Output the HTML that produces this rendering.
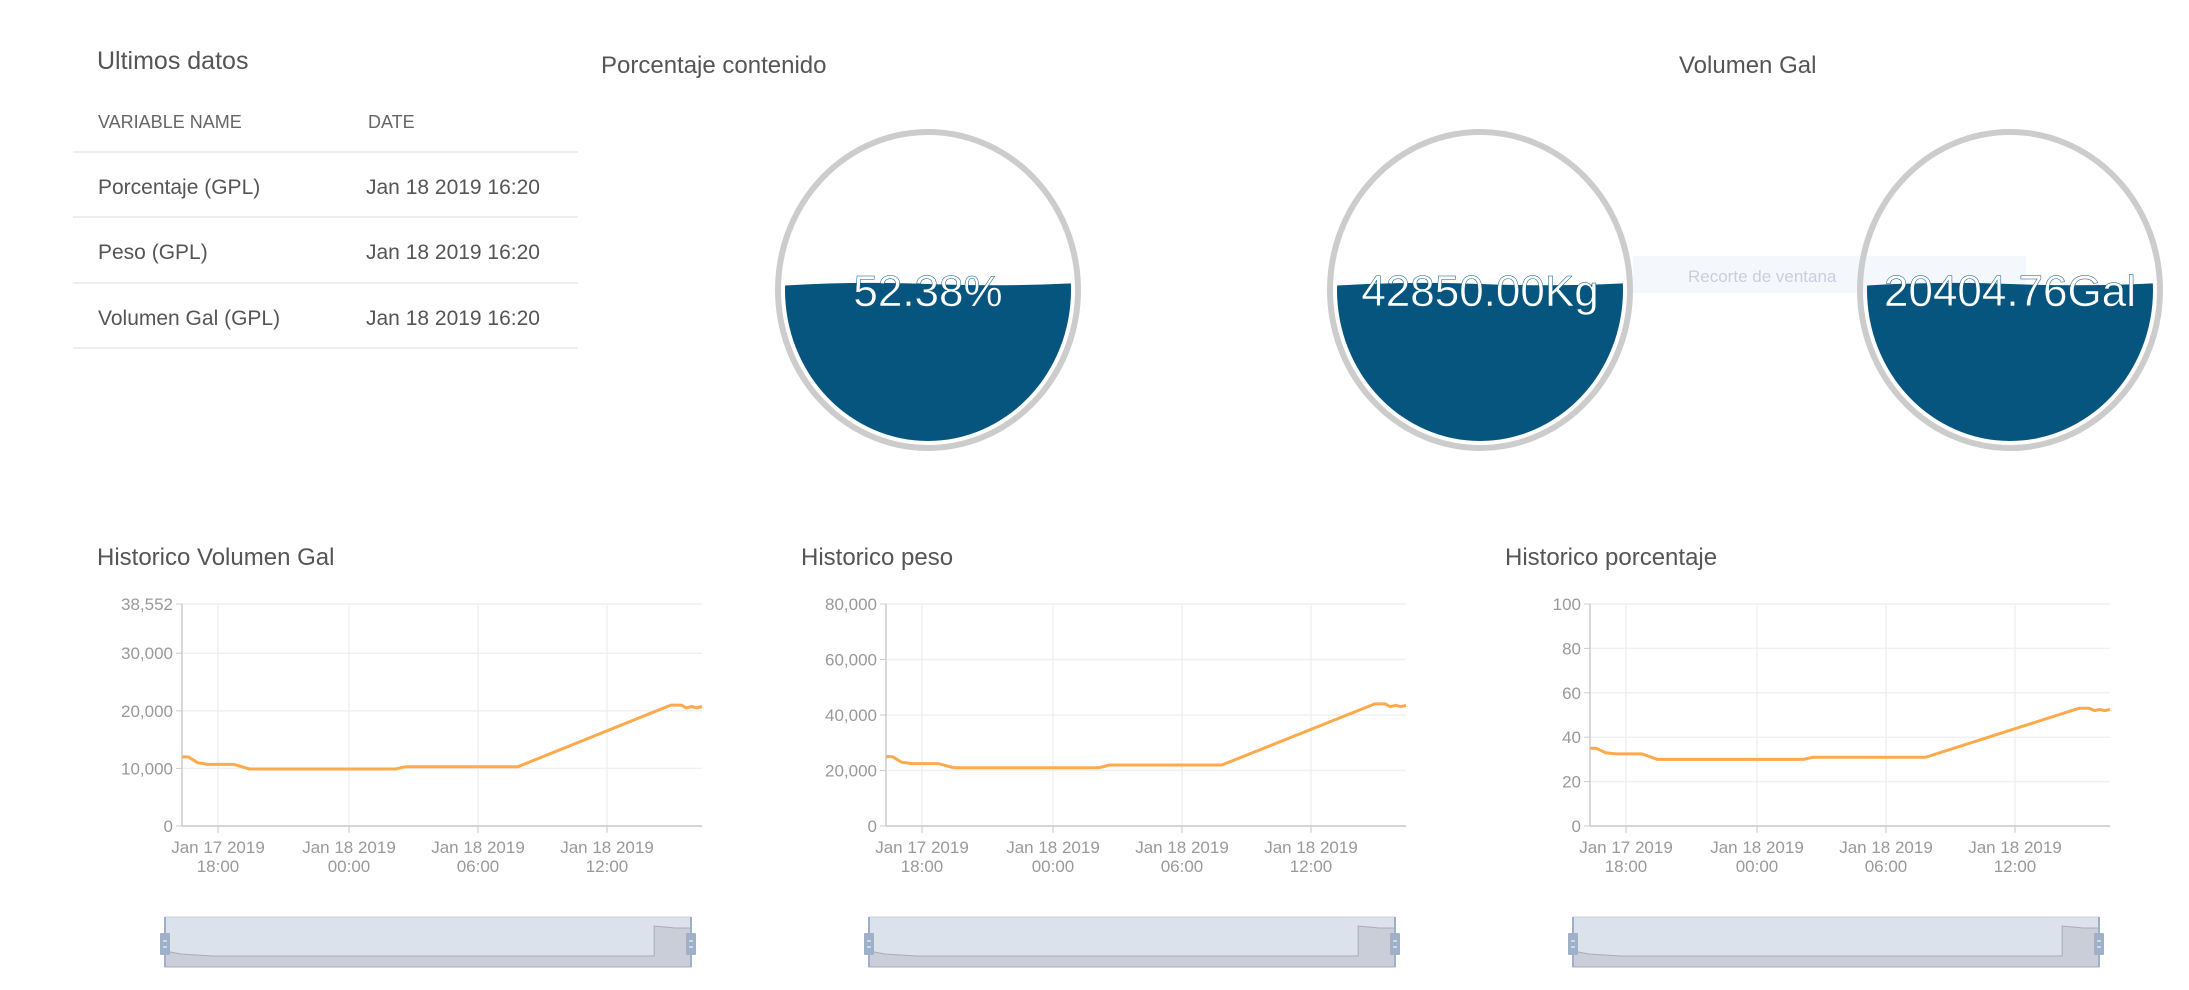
<!DOCTYPE html>
<html><head><meta charset="utf-8"><style>
html,body{margin:0;padding:0;background:#fff;width:2189px;height:990px;overflow:hidden;font-family:"Liberation Sans",sans-serif;}
</style></head><body>
<svg id="s" width="2189" height="990" xmlns="http://www.w3.org/2000/svg" font-family="Liberation Sans, sans-serif">
<text x="97" y="69" font-size="25" fill="#555">Ultimos datos</text>
<text x="98" y="128" font-size="18" fill="#666">VARIABLE NAME</text>
<text x="368" y="128" font-size="18" fill="#666">DATE</text>
<g stroke="#eee" stroke-width="2">
<line x1="73" y1="152" x2="578" y2="152"/><line x1="73" y1="217" x2="578" y2="217"/>
<line x1="73" y1="283" x2="578" y2="283"/><line x1="73" y1="348" x2="578" y2="348"/></g>
<g font-size="21" fill="#555">
<text x="98" y="194">Porcentaje (GPL)</text><text x="366" y="194">Jan 18 2019 16:20</text>
<text x="98" y="259">Peso (GPL)</text><text x="366" y="259">Jan 18 2019 16:20</text>
<text x="98" y="325">Volumen Gal (GPL)</text><text x="366" y="325">Jan 18 2019 16:20</text></g>
<text x="601" y="73" font-size="24" fill="#555">Porcentaje contenido</text>
<text x="1679" y="73" font-size="24" fill="#555">Volumen Gal</text>
<rect x="1633" y="256" width="393" height="37" fill="#f4f8fc"/>
<text x="1688" y="282" font-size="17" fill="#ccd">Recorte de ventana</text>
<g id="gauges"></g>
<g id="charts"></g>
</svg>
<script>
var NS="http://www.w3.org/2000/svg";
function el(p,t,a,txt){var e=document.createElementNS(NS,t);for(var k in a)e.setAttribute(k,a[k]);if(txt!=null)e.textContent=txt;p.appendChild(e);return e;}
var G=document.getElementById('gauges');
var defs=el(G,'defs',{});
[[928,'52.38%'],[1480,'42850.00Kg'],[2010,'20404.76Gal']].forEach(function(g,i){
 var cx=g[0],cy=290;
 var cp=el(defs,'clipPath',{id:'c'+i});el(cp,'ellipse',{cx:cx,cy:cy,rx:143,ry:151});
 el(G,'ellipse',{cx:cx,cy:cy,rx:150,ry:158,fill:'none',stroke:'#ccc','stroke-width':6});
 var d='M'+(cx-150)+' 286 Q'+(cx-75)+' 281 '+cx+' 284 T'+(cx+150)+' 283 L'+(cx+150)+' 460 L'+(cx-150)+' 460 Z';
 el(G,'path',{d:d,fill:'#06557f','clip-path':'url(#c'+i+')'});
 el(G,'text',{x:cx,y:306,'font-size':44,fill:'#fff','text-anchor':'middle',stroke:'#06557f','stroke-width':0.5},g[1]);
});
var C=document.getElementById('charts');
var charts=[
 {t:'Historico Volumen Gal',max:38552,ticks:[[0,'0'],[10000,'10,000'],[20000,'20,000'],[30000,'30,000'],[38552,'38,552']],
  lo:12000,b:[11000,10700,9900,10300],hi:21000,j:20500},
 {t:'Historico peso',max:80000,ticks:[[0,'0'],[20000,'20,000'],[40000,'40,000'],[60000,'60,000'],[80000,'80,000']],
  lo:25000,b:[23000,22500,21000,22000],hi:44000,j:43000},
 {t:'Historico porcentaje',max:100,ticks:[[0,'0'],[20,'20'],[40,'40'],[60,'60'],[80,'80'],[100,'100']],
  lo:35,b:[33,32.5,30,31],hi:53,j:52}];
charts.forEach(function(c,i){
 var ox=i*704, L=182+ox, R=702+ox, T=604, B=826, W=R-L;
 el(C,'text',{x:97+ox,y:565,'font-size':24,fill:'#555'},c.t);
 function Y(v){return B-(B-T)*v/c.max;}
 c.ticks.forEach(function(tk){var y=Y(tk[0]);
  el(C,'line',{x1:L,x2:R,y1:y,y2:y,stroke:'#f0f0f0','stroke-width':1.5});
  el(C,'line',{x1:L-6,x2:L,y1:y,y2:y,stroke:'#ccc'});
  el(C,'text',{x:L-9,y:y+6,'font-size':17,fill:'#999','text-anchor':'end'},tk[1]);});
 [218,349,478,607].forEach(function(x,k){x+=ox;
  el(C,'line',{x1:x,x2:x,y1:T,y2:B+6,stroke:'#f0f0f0','stroke-width':1.5});
  el(C,'line',{x1:x,x2:x,y1:B,y2:B+7,stroke:'#ccc'});
  el(C,'text',{x:x,y:853,'font-size':17,fill:'#999','text-anchor':'middle'},k==0?'Jan 17 2019':'Jan 18 2019');
  el(C,'text',{x:x,y:872,'font-size':17,fill:'#999','text-anchor':'middle'},['18:00','00:00','06:00','12:00'][k]);});
 el(C,'line',{x1:L,x2:L,y1:T,y2:B,stroke:'#ccc','stroke-width':1.5});
 el(C,'line',{x1:L,x2:R,y1:B,y2:B,stroke:'#ccc','stroke-width':1.5});
 var pts=[[0,c.lo],[0.012,c.lo],[0.03,c.b[0]],[0.05,c.b[1]],[0.1,c.b[1]],[0.13,c.b[2]],[0.41,c.b[2]],[0.43,c.b[3]],[0.646,c.b[3]],[0.94,c.hi],[0.96,c.hi],[0.97,c.j],[0.98,(c.hi+c.j)/2],[0.99,c.j],[1,(c.hi+c.j)/2]];
 var d=pts.map(function(p,k){return (k?'L':'M')+(L+p[0]*W).toFixed(1)+' '+Y(p[1]).toFixed(1);}).join(' ');
 el(C,'path',{d:d,fill:'none',stroke:'#ffa94d','stroke-width':3,'stroke-linejoin':'round'});
 // navigator
 var nl=165+ox,nr=691+ox,nt=917,nb=967,nw=nr-nl;
 el(C,'rect',{x:nl,y:nt,width:nw,height:nb-nt,fill:'#dce2ec',stroke:'#c8d0dc'});
 var nd='M'+nl+' '+(nb-16);
 nd+=' L'+(nl+nw*0.03)+' '+(nb-13)+' L'+(nl+nw*0.09)+' '+(nb-11)+' L'+(nl+nw*0.93)+' '+(nb-11)+' L'+(nl+nw*0.93)+' '+(nt+9)+' L'+(nl+nw*0.97)+' '+(nt+11)+' L'+(nr)+' '+(nt+11)+' L'+nr+' '+nb+' L'+nl+' '+nb+'Z';
 el(C,'path',{d:nd,fill:'#c9ced8',stroke:'#aab','stroke-width':1});
 [nl,nr].forEach(function(x){el(C,'line',{x1:x,x2:x,y1:nt,y2:nb,stroke:'#9fb0c8','stroke-width':2});
  el(C,'rect',{x:x-5,y:933,width:10,height:22,fill:'#9fb0c8',rx:1});
  el(C,'line',{x1:x-2,x2:x+2,y1:941,y2:941,stroke:'#fff'});el(C,'line',{x1:x-2,x2:x+2,y1:947,y2:947,stroke:'#fff'});});
});
</script>
</body></html>
